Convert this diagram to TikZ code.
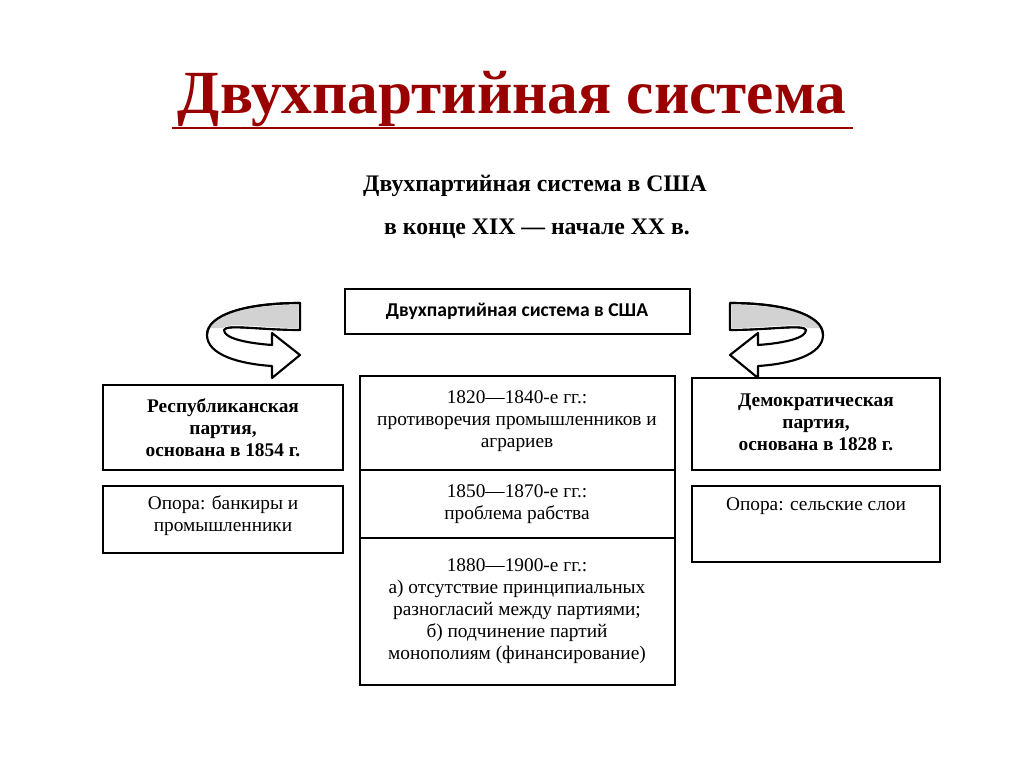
\documentclass[tikz,border=0pt]{standalone}
\usepackage{fontspec}
\setmainfont{Liberation Serif}
\newfontfamily\calfont{Carlito}
\begin{document}
\begin{tikzpicture}[x=0.75pt,y=-0.75pt,
 bx/.style={draw,line width=1pt,inner sep=0pt},
 t/.style={font=\fontsize{14.5}{16.5}\selectfont,align=center},
 tb/.style={font=\fontsize{14.5}{16.5}\selectfont\bfseries,align=center},
 rib/.style={draw,line width=1.6pt,fill=white,line join=round}]
\useasboundingbox (0,0) rectangle (1024,767);
\node[font=\fontsize{46}{50}\selectfont\bfseries,text=red!60!black] (title) at (512,99) {Двухпартийная система};
\draw[red!60!black,line width=2.2pt] (172,128) -- (853,128);
\node[font=\fontsize{17.8}{20}\selectfont\bfseries] (s1) at (535,186) {Двухпартийная система в США};
\node[font=\fontsize{17.8}{20}\selectfont\bfseries] (s2) at (537,229) {в конце XIX — начале XX в.};
\draw[bx] (345,289) rectangle (690,334);
\node[font=\calfont\fontsize{14.7}{17}\selectfont\bfseries] (top) at (517,311) {Двухпартийная система в США};
\draw[bx] (103,385) rectangle (343,470);
\node[tb] (rep) at (223,428) {Республиканская\\партия,\\основана в 1854 г.};
\draw[bx] (103,486) rectangle (343,553);
\node[t] (rep2) at (223,516) {Опора: банкиры и\\промышленники};
\draw[bx] (692,378) rectangle (940,470);
\node[tb] (dem) at (816,422) {Демократическая\\партия,\\основана в 1828 г.};
\draw[bx] (692,486) rectangle (940,562);
\node[t] (dem2) at (816,506) {Опора: сельские слои};
\draw[bx] (360,376) rectangle (675,470);
\draw[bx] (360,470) rectangle (675,538);
\draw[bx] (360,538) rectangle (675,685);
\node[t] (c1) at (517,421) {1820—1840-е гг.:\\противоречия промышленников и\\аграриев};
\node[t] (c2) at (517,504) {1850—1870-е гг.:\\проблема рабства};
\node[t] (c3) at (517,611) {1880—1900-е гг.:\\а) отсутствие принципиальных\\разногласий между партиями;\\б) подчинение партий\\монополиям (финансирование)};
\foreach \s/\d in {0/1,1030/-1}{
\begin{scope}[shift={(\s,0)},xscale=\d]
\draw[rib] (300,303) .. controls (245,303) and (207,315) .. (207,335)
  .. controls (207,355) and (240,364) .. (272,366) -- (272,378) -- (300,355) -- (272,333) -- (272,345)
  .. controls (245,343) and (224,338) .. (224,330) .. controls (226,324) and (260,330) .. (300,330) -- cycle;
\fill[gray!35] (298,305) .. controls (248,305) and (212,313) .. (209,328) -- (223,328) .. controls (228,322) and (262,328) .. (298,328) -- cycle;
\draw[line width=1.6pt] (300,303) .. controls (245,303) and (207,315) .. (207,335);
\draw[line width=1.2pt] (224,330) .. controls (226,324) and (260,330) .. (300,330);
\end{scope}}
\end{tikzpicture}
\end{document}
